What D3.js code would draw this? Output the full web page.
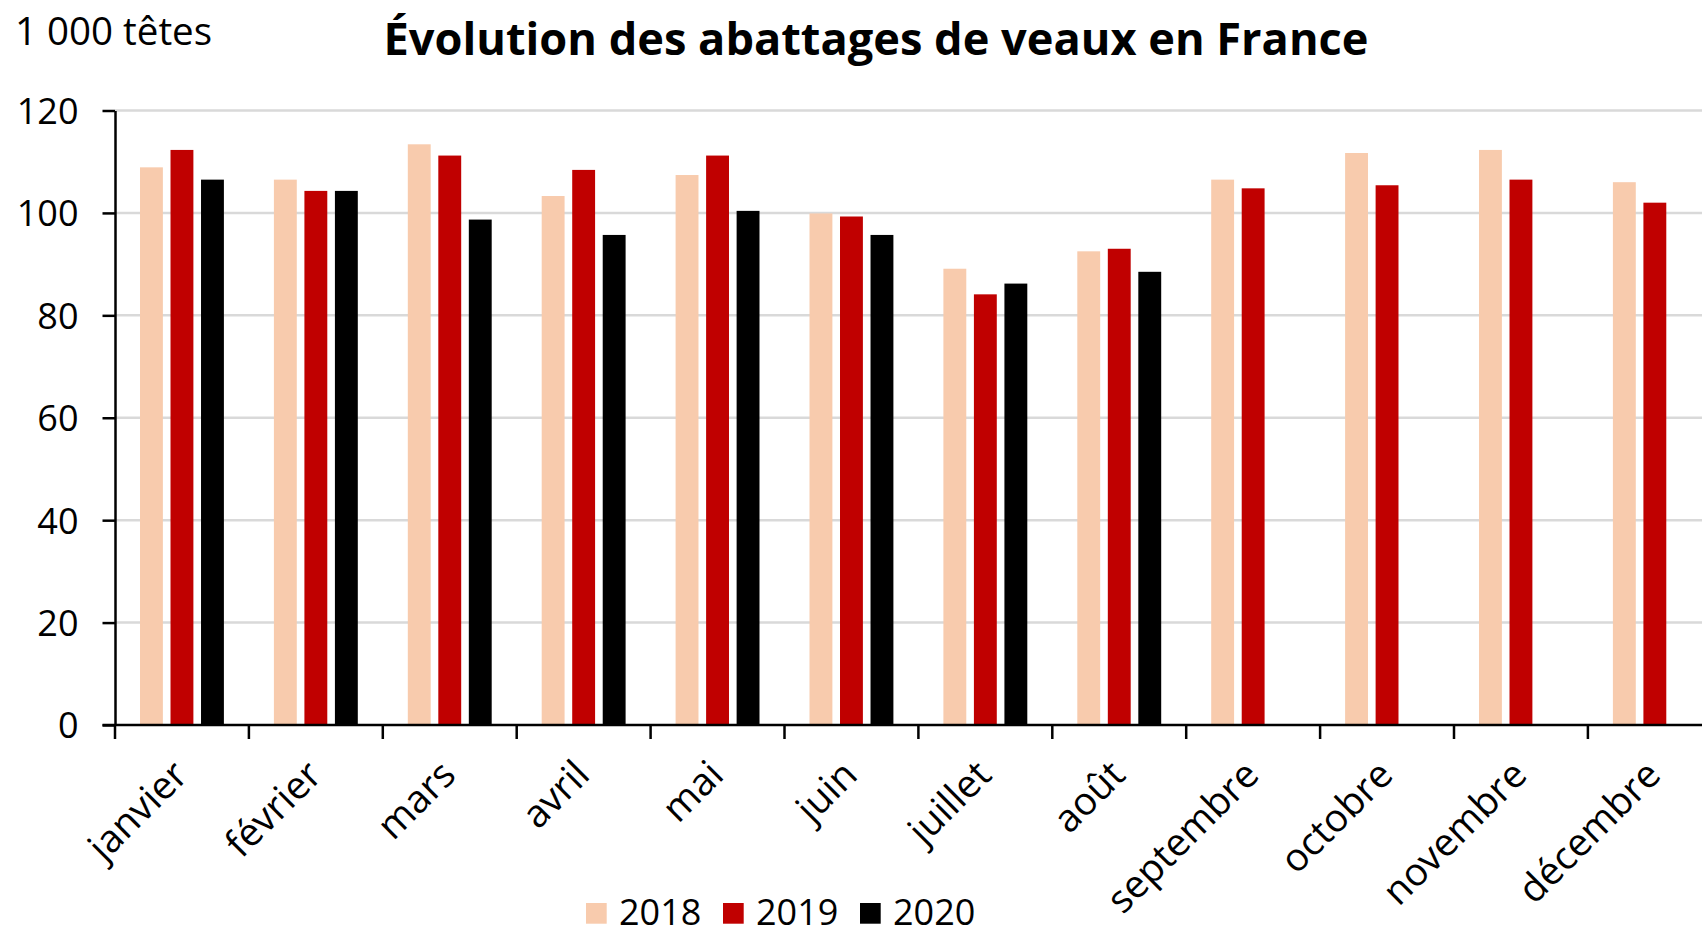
<!DOCTYPE html>
<html>
<head>
<meta charset="utf-8">
<script src="https://cdn.jsdelivr.net/npm/d3@7"></script>
<style>
  body { margin: 0; background: #fff; }
  svg { display: block; }
  text { font-family: "Open Sans", sans-serif; fill: #000; }
</style>
</head>
<body>
<div id="chart"></div>
<script>
"use strict";

// data (1 000 têtes)
const months = ["janvier", "février", "mars", "avril", "mai", "juin",
  "juillet", "août", "septembre", "octobre", "novembre", "décembre"];
const years = ["2018", "2019", "2020"];
const values2018 = [108.9, 106.5, 113.4, 103.3, 107.4, 99.9, 89.1, 92.5, 106.5, 111.7, 112.3, 106.0];
const values2019 = [112.3, 104.3, 111.2, 108.4, 111.2, 99.3, 84.1, 93.0, 104.8, 105.4, 106.5, 102.0];
const values2020 = [106.5, 104.3, 98.7, 95.7, 100.4, 95.7, 86.2, 88.5, null, null, null, null];
const yTicks = [0, 20, 40, 60, 80, 100, 120];
const colors = ["#F8CBAD", "#C00000", "#000000"];

const series = [values2018, values2019, values2020];

const width = 1702;
const height = 936;
const plot = { left: 115, top: 110.5, bottom: 725, step: 133.9 };

let svg = d3.select("#chart")
  .append("svg")
  .attr("width", width)
  .attr("height", height);

let xScale = d3.scaleBand()
  .domain(months)
  .range([plot.left, plot.left + plot.step * months.length])
  .padding(0);

let xInner = d3.scaleBand()
  .domain(years)
  .range([25, plot.step - 25])
  .paddingInner(0.25)
  .paddingOuter(0);

let yScale = d3.scaleLinear()
  .domain([0, 120])
  .range([plot.bottom, plot.top]);

// gridlines
svg.append("g")
  .selectAll("line")
  .data(yTicks.filter(d => d > 0))
  .join("line")
  .attr("x1", plot.left)
  .attr("x2", width)
  .attr("y1", d => yScale(d))
  .attr("y2", d => yScale(d))
  .attr("stroke", "#D9D9D9")
  .attr("stroke-width", 2.5);

// bars
let rows = [];
months.forEach((m, i) => {
  years.forEach((y, j) => {
    if (series[j][i] != null) {
      rows.push({ month: m, year: y, value: series[j][i], color: colors[j] });
    }
  });
});

svg.append("g")
  .selectAll("rect")
  .data(rows)
  .join("rect")
  .attr("x", d => xScale(d.month) + xInner(d.year))
  .attr("width", xInner.bandwidth())
  .attr("y", d => yScale(d.value))
  .attr("height", d => yScale(0) - yScale(d.value))
  .attr("fill", d => d.color);

// y axis
let yAxis = svg.append("g")
  .attr("transform", "translate(" + plot.left + ",0)")
  .call(d3.axisLeft(yScale).tickValues(yTicks).tickSize(12.5).tickPadding(24).tickSizeOuter(0));
yAxis.select(".domain").attr("stroke", "#000").attr("stroke-width", 2.5);
yAxis.selectAll(".tick line").attr("stroke", "#000").attr("stroke-width", 2.5);
yAxis.selectAll(".tick text")
  .attr("font-family", "Open Sans")
  .attr("font-size", 36)
  .attr("dy", "0.36em");

// x axis
let xAxis = svg.append("g")
  .attr("transform", "translate(0," + plot.bottom + ")");
xAxis.append("line")
  .attr("x1", plot.left - 12.5)
  .attr("x2", width)
  .attr("stroke", "#000")
  .attr("stroke-width", 2.5);
xAxis.selectAll(".xtick")
  .data(months)
  .join("line")
  .attr("class", "xtick")
  .attr("x1", d => xScale(d))
  .attr("x2", d => xScale(d))
  .attr("y1", 0)
  .attr("y2", 14)
  .attr("stroke", "#000")
  .attr("stroke-width", 2.5);
xAxis.selectAll(".xlabel")
  .data(months)
  .join("text")
  .attr("class", "xlabel")
  .attr("text-anchor", "end")
  .attr("font-size", 38.5)
  .attr("transform", d => "translate(" + (xScale(d) + xScale.bandwidth() / 2 + 8) + ",52) rotate(-45)")
  .text(d => d);

// unit label
svg.append("text")
  .attr("x", 15)
  .attr("y", 45)
  .attr("font-size", 38.5)
  .text("1 000 têtes");

// title, sized to the reference width
let title = svg.append("text")
  .attr("x", 876)
  .attr("y", 55)
  .attr("text-anchor", "middle")
  .attr("font-family", "Lato")
  .attr("font-weight", "bold")
  .attr("font-size", 44)
  .text("Évolution des abattages de veaux en France");
let tl = title.node().getComputedTextLength();
title.attr("font-size", 44 * 985 / tl);

// legend (kept just inside the bottom edge)
let legend = svg.append("g")
  .attr("transform", "translate(586,903)");
let item = legend.selectAll("g")
  .data(years)
  .join("g")
  .attr("transform", (d, i) => "translate(" + (i * 137) + ",0)");
item.append("rect")
  .attr("width", 20.7)
  .attr("height", 20.7)
  .attr("fill", (d, i) => colors[i]);
item.append("text")
  .attr("x", 33)
  .attr("y", 22)
  .attr("font-size", 36)
  .text(d => d);
</script>
</body>
</html>
